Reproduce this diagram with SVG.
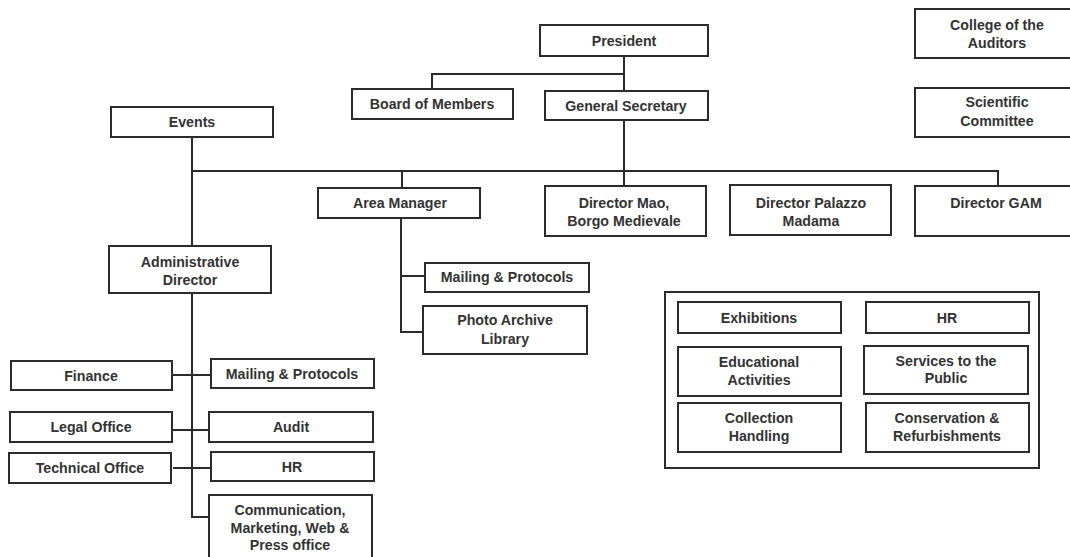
<svg xmlns="http://www.w3.org/2000/svg" width="1070" height="557" viewBox="0 0 1070 557">
<style>
rect{fill:#fff;stroke:#2b2b2b;stroke-width:2}
text{font-family:"Liberation Sans",Arial,sans-serif;font-weight:bold;font-size:14.2px;fill:#333;text-anchor:middle;dominant-baseline:central}
.c path{fill:none;stroke:#2b2b2b;stroke-width:2}
</style>
<rect x="0" y="0" width="1070" height="557" style="stroke:none"/>
<g class="c" id="connectors">
<path d="M624 56V91M432 89V74H624"/>
<path d="M624 120V186M192 137V246M192 171H998V186M402 171V188"/>
<path d="M401 218V332H423M401 276H425"/>
<path d="M192 293V517H209M172 375H211M172 430H209M173 468H211"/>
</g>
<g id="president"><rect x="540" y="25" width="168" height="31"/><text x="624" y="41">President</text></g>
<g id="board"><rect x="352" y="89" width="161" height="30"/><text x="432" y="104">Board of Members</text></g>
<g id="gensec"><rect x="545" y="91" width="163" height="29"/><text x="626" y="106">General Secretary</text></g>
<g id="college"><rect x="915" y="9" width="170" height="49"/><text x="997" y="25">College of the</text><text x="997" y="43">Auditors</text></g>
<g id="scientific"><rect x="915" y="88" width="170" height="49"/><text x="997" y="102">Scientific</text><text x="997" y="121">Committee</text></g>
<g id="events"><rect x="111" y="107" width="162" height="30"/><text x="192" y="122">Events</text></g>
<g id="area"><rect x="318" y="188" width="162" height="30"/><text x="400" y="203">Area Manager</text></g>
<g id="mao"><rect x="545" y="186" width="161" height="50"/><text x="624" y="203">Director Mao,</text><text x="624" y="221">Borgo Medievale</text></g>
<g id="palazzo"><rect x="730" y="185" width="161" height="50"/><text x="811" y="203">Director Palazzo</text><text x="811" y="221">Madama</text></g>
<g id="gam"><rect x="915" y="186" width="170" height="50"/><text x="996" y="203">Director GAM</text></g>
<g id="admin"><rect x="109" y="246" width="162" height="47"/><text x="190" y="262">Administrative</text><text x="190" y="280">Director</text></g>
<g id="mailing1"><rect x="425" y="263" width="164" height="29"/><text x="507" y="277">Mailing &amp; Protocols</text></g>
<g id="photo"><rect x="423" y="306" width="164" height="48"/><text x="505" y="320">Photo Archive</text><text x="505" y="339">Library</text></g>
<g id="finance"><rect x="11" y="361" width="161" height="29"/><text x="91" y="376">Finance</text></g>
<g id="mailing2"><rect x="211" y="359" width="163" height="29"/><text x="292" y="374">Mailing &amp; Protocols</text></g>
<g id="legal"><rect x="10" y="412" width="162" height="30"/><text x="91" y="427">Legal Office</text></g>
<g id="audit"><rect x="209" y="412" width="164" height="30"/><text x="291" y="427">Audit</text></g>
<g id="technical"><rect x="9" y="453" width="162" height="30"/><text x="90" y="468">Technical Office</text></g>
<g id="hr1"><rect x="211" y="452" width="163" height="29"/><text x="292" y="467">HR</text></g>
<g id="comm"><rect x="209" y="495" width="163" height="70"/><text x="290" y="510">Communication,</text><text x="290" y="528">Marketing, Web &amp;</text><text x="290" y="545">Press office</text></g>
<g id="departments"><rect x="665" y="292" width="374" height="176"/></g>
<g id="exhibitions"><rect x="678" y="302" width="163" height="31"/><text x="759" y="318">Exhibitions</text></g>
<g id="hr2"><rect x="866" y="302" width="163" height="31"/><text x="947" y="318">HR</text></g>
<g id="educational"><rect x="678" y="347" width="163" height="49"/><text x="759" y="362">Educational</text><text x="759" y="380">Activities</text></g>
<g id="services"><rect x="864" y="346" width="164" height="48"/><text x="946" y="361">Services to the</text><text x="946" y="378">Public</text></g>
<g id="collection"><rect x="678" y="403" width="163" height="49"/><text x="759" y="418">Collection</text><text x="759" y="436">Handling</text></g>
<g id="conservation"><rect x="866" y="403" width="163" height="49"/><text x="947" y="418">Conservation &amp;</text><text x="947" y="436">Refurbishments</text></g>
</svg>
